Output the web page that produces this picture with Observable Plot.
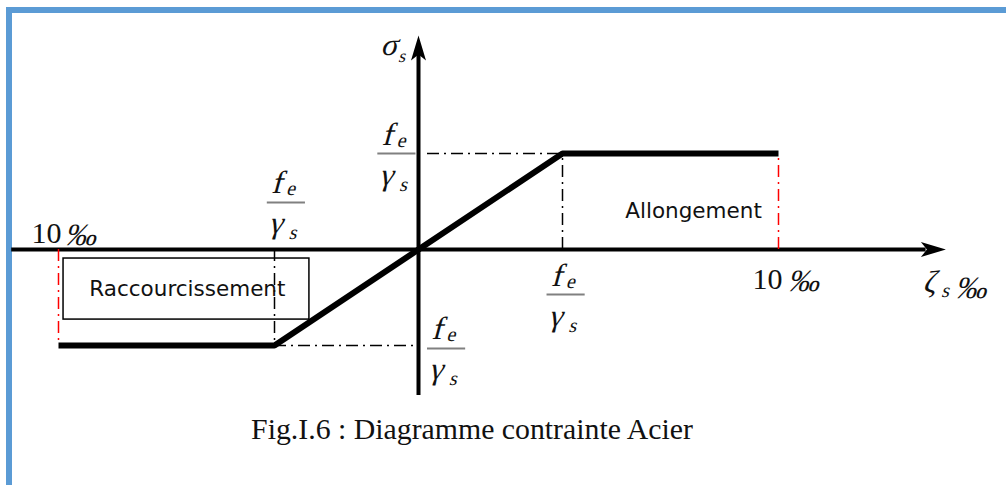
<!DOCTYPE html>
<html>
<head>
<meta charset="utf-8">
<script src="https://cdn.jsdelivr.net/npm/d3@7"></script>
<script src="https://cdn.jsdelivr.net/npm/@observablehq/plot@0.6"></script>
<style>
  html, body { margin: 0; padding: 0; background: #fff; }
  #frame { position: relative; width: 1006px; height: 485px; overflow: hidden; }
  #frame .border {
    position: absolute; left: 6px; top: 7px; width: 1100px; height: 600px;
    border-top: 6px solid #5b9bd5; border-left: 6px solid #5b9bd5;
  }
  #chart { position: absolute; left: 0; top: 0; }
  #caption {
    position: absolute; top: 412px; left: 0; width: 944px; text-align: center;
    font-family: "Liberation Serif", "Times New Roman", serif; font-size: 29.8px; color: #111;
  }
</style>
</head>
<body>
<div id="frame">
  <div class="border"></div>
  <div id="chart"></div>
  <div id="caption">Fig.I.6 : Diagramme contrainte Acier</div>
</div>
<script>
// Bilinear stress–strain law of reinforcing steel.
// Strain in ‰, stress in units of fe/γs.
const strain = [-10, -4, 0, 4, 10];
const stress = [-1, -1, 0, 1, 1];
const law = strain.map((e, i) => ({e, s: stress[i]}));

const strainLimit = 10;   // ultimate strain, ‰
const yieldStrain = 4;    // strain at the yield plateau (schematic)
const designStress = 1;   // fe/γs

// Extent of the drawn axes (data units)
const xAxisSpan = [-11.3, 14.65];
const yAxisSpan = [-1.52, 2.23];

// Where the fe/γs fractions are written (centre of the fraction bar)
const fractionAt = [
  {x: -0.6, y: 1},
  {x: -3.67, y: 0.49},
  {x: 0.78, y: -1.03},
  {x: 4.1, y: -0.47}
];

// Region labels
const regions = [
  {name: "Raccourcissement", x: -6.42, y: -0.41},
  {name: "Allongement", x: 7.64, y: 0.40}
];
// Frame around the shortening label
const shorteningBox = [{x1: -9.86, x2: -3.03, y1: -0.094, y2: -0.73}];

const serif = "'Liberation Serif', 'Times New Roman', serif";
const mathSerif = "'Liberation Serif', 'Times New Roman', Times, serif";
const hand = "'Comic Sans MS', 'DejaVu Sans', sans-serif";
const dashDot = "12,5,2,5";

// Filled, slightly notched arrowhead pointing up, tip at the origin
const arrowHead = {
  draw(ctx) {
    ctx.moveTo(0, 0);
    ctx.lineTo(7.5, 25);
    ctx.lineTo(0, 19);
    ctx.lineTo(-7.5, 25);
    ctx.closePath();
  }
};

// Math symbols: serif glyphs slanted afterwards (see below)
const math = (opts) => ({fontFamily: mathSerif, lineAnchor: "bottom", fill: "#111", ...opts});

const chart = Plot.plot({
  width: 1006,
  height: 400,
  margin: 0,
  x: {domain: [-strainLimit, strainLimit], range: [58, 778], axis: null},
  y: {domain: [-designStress, designStress], range: [345, 153], axis: null},
  style: {background: "transparent", overflow: "visible"},
  marks: [
    // axes
    Plot.ruleY([0], {x1: xAxisSpan[0], x2: xAxisSpan[1] - 0.55, stroke: "black", strokeWidth: 4}),
    Plot.dot([{x: xAxisSpan[1], y: 0}], {x: "x", y: "y", symbol: arrowHead, fill: "black", stroke: null, rotate: 90}),
    Plot.ruleX([0], {y1: yAxisSpan[0], y2: yAxisSpan[1] - 0.2, stroke: "black", strokeWidth: 4}),
    Plot.dot([{x: 0, y: yAxisSpan[1]}], {x: "x", y: "y", symbol: arrowHead, fill: "black", stroke: null}),

    // dash-dot construction lines
    Plot.ruleY([designStress], {x1: 0.25, x2: yieldStrain, stroke: "black", strokeWidth: 1.5, strokeDasharray: dashDot}),
    Plot.ruleX([yieldStrain], {y1: 0, y2: designStress, stroke: "black", strokeWidth: 1.5, strokeDasharray: dashDot}),
    Plot.ruleY([-designStress], {x1: -yieldStrain, x2: 0, stroke: "black", strokeWidth: 1.5, strokeDasharray: dashDot}),
    Plot.ruleX([-yieldStrain], {y1: 0, y2: -designStress, stroke: "black", strokeWidth: 1.5, strokeDasharray: dashDot}),
    Plot.ruleX([strainLimit], {y1: 0, y2: designStress, stroke: "red", strokeWidth: 1.5, strokeDasharray: dashDot}),
    Plot.ruleX([-strainLimit], {y1: 0, y2: -designStress, stroke: "red", strokeWidth: 1.5, strokeDasharray: dashDot}),

    // shortening frame and region labels
    Plot.rect(shorteningBox, {x1: "x1", x2: "x2", y1: "y1", y2: "y2", fill: "none", stroke: "black", strokeWidth: 1.5}),
    Plot.text(regions, {x: "x", y: "y", text: "name", fontFamily: hand, fontSize: 21.5, fill: "#111"}),

    // the stress–strain law
    Plot.line(law, {x: "e", y: "s", stroke: "black", strokeWidth: 6, strokeLinejoin: "miter", strokeLinecap: "butt"}),

    // fe/γs fractions
    Plot.ruleY(fractionAt, {y: "y", x1: d => d.x - 0.53, x2: d => d.x + 0.53, stroke: "#808080", strokeWidth: 2}),
    Plot.text(fractionAt, math({x: "x", y: "y", text: () => "f", fontSize: 32, dx: -10, dy: -9})),
    Plot.text(fractionAt, math({x: "x", y: "y", text: () => "e", fontSize: 20, dx: 4, dy: -7})),
    Plot.text(fractionAt, math({x: "x", y: "y", text: () => "γ", fontSize: 31, dx: -11, dy: 31})),
    Plot.text(fractionAt, math({x: "x", y: "y", text: () => "s", fontSize: 20, dx: 6, dy: 37})),

    // ±10 ‰ limits
    Plot.text([-strainLimit], {x: d => d, y: 0, text: () => "10", fontFamily: serif, fontSize: 30, textAnchor: "end", lineAnchor: "bottom", dx: 3, dy: -7, fill: "#111"}),
    Plot.text([-strainLimit], math({x: d => d, y: 0, text: () => "‰", fontSize: 31, textAnchor: "start", dx: 6, dy: -5})),
    Plot.text([strainLimit], {x: d => d, y: 0, text: () => "10", fontFamily: serif, fontSize: 30, textAnchor: "end", lineAnchor: "bottom", dx: 4, dy: 39, fill: "#111"}),
    Plot.text([strainLimit], math({x: d => d, y: 0, text: () => "‰", fontSize: 31, textAnchor: "start", dx: 9, dy: 41})),

    // axis titles: σs and ζs ‰
    Plot.text([0], math({x: d => d, y: yAxisSpan[1], text: () => "σ", fontSize: 31, dx: -30, dy: 20})),
    Plot.text([0], math({x: d => d, y: yAxisSpan[1], text: () => "s", fontSize: 18, dx: -17, dy: 27})),
    Plot.text([xAxisSpan[1]], math({x: d => d, y: 0, text: () => "ζ", fontSize: 31, dx: -17, dy: 42})),
    Plot.text([xAxisSpan[1]], math({x: d => d, y: 0, text: () => "s", fontSize: 20, dx: -1, dy: 47})),
    Plot.text([xAxisSpan[1]], math({x: d => d, y: 0, text: () => "‰", fontSize: 31, textAnchor: "start", dx: 9, dy: 48}))
  ]
});

// Slant the math glyphs (italic look)
d3.select(chart).selectAll("g")
  .filter(function () { return this.getAttribute("font-family") === mathSerif; })
  .selectAll("text")
  .attr("transform", function () { return (this.getAttribute("transform") || "") + " skewX(-15)"; });

document.getElementById("chart").append(chart);
</script>
</body>
</html>
